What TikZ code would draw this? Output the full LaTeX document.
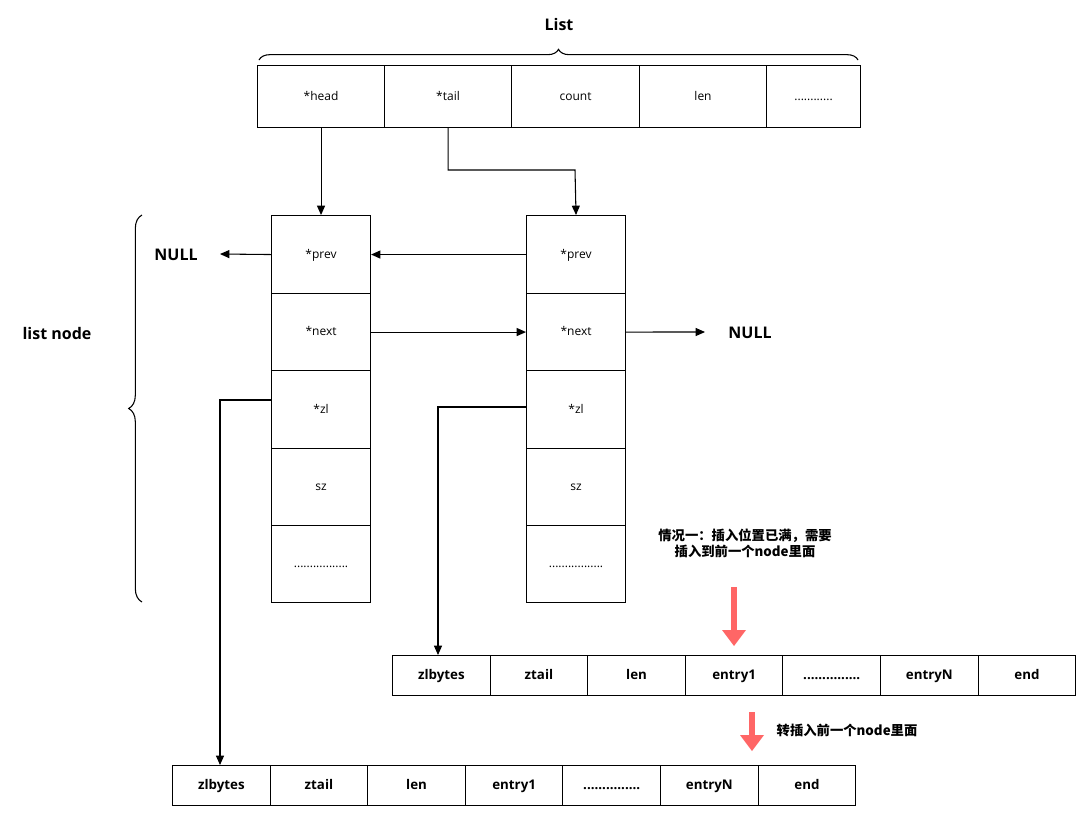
\documentclass[tikz,border=0pt]{standalone}
\usepackage{fontspec}
\setmainfont{Open Sans}
\newfontfamily\cjk{Noto Sans CJK SC}
\usetikzlibrary{arrows.meta,decorations.pathreplacing}
\definecolor{redar}{HTML}{FF6666}
\newcommand\mydotsA{............}
\newcommand\mydotsB{.................}
\newcommand\mydotsC{...............}
\begin{document}
\begin{tikzpicture}[x=0.75pt,y=-0.75pt,
  cell/.style={draw,thick,minimum height=0pt,inner sep=0pt,font=\small,text height=1.5ex,text depth=0.4ex},
  ar/.style={thick,-{Triangle[length=7pt,width=6pt]}},
  lbl/.style={font=\large\bfseries}]
\useasboundingbox (0,0) rectangle (1087,833);
% List row
\foreach \n/\a/\b/\t in {h/257/384/*head,t/384/511/*tail,c/511/639/count,l/639/766/len,d/766/860/\mydotsA}
  \node[cell,minimum width=(\b-\a)*0.75pt,minimum height=62*0.75pt,anchor=north west] (L\n) at (\a,65) {\t};
\draw[thick,decorate,decoration={brace,amplitude=8pt}] (259,60) -- (858,60);
\node[lbl] (listlbl) at (559,24) {List};
% nodes
\foreach \k/\x in {A/271,B/526}{
 \foreach \r/\ya/\yb/\t in {p/215/293/*prev,n/293/370/*next,z/370/448/*zl,s/448/525/sz,d/525/602/\mydotsB}
  \node[cell,minimum width=99*0.75pt,minimum height=(\yb-\ya)*0.75pt,anchor=north west] (\k\r) at (\x,\ya) {\t};
}
\draw[thick,decorate,decoration={brace,amplitude=10pt}] (142,602) -- (142,215);
\node[lbl] (lnlbl) at (57,333) {list node};
\node[lbl] (null1) at (176,255) {NULL};
\node[lbl] (null2) at (750,333) {NULL};
\coordinate (n1e) at (220,254);
\coordinate (n2e) at (705,332);
\draw[ar] (Lh.south) -- (Ap.north);
\draw[ar] (Lt.south) |- (575,170) -- (Bp.north);
\draw[ar] (Bp.west) -- (Ap.east);
\draw[ar] (Ap.west) -- (n1e);
\draw[ar] (An.east) -- (Bn.west);
\draw[ar] (Bn.east) -- (n2e);
% ziplists
\foreach \k/\x/\y in {P/392/655,Q/172/765}{
 \foreach \i/\t [count=\j from 0] in {1/zlbytes,2/ztail,3/len,4/entry1,5/\mydotsC,6/entryN,7/end}
  \node[cell,font=\bfseries,minimum width=97.6*0.75pt,minimum height=40*0.75pt,anchor=north west] (\k\i) at ({\x+\j*97.6},\y) {\t};
}
\coordinate (zq) at (438,655);
\coordinate (zp) at (220,765);
\draw[ar] (526,407) -| (zq);
\draw[ar] (271,400) -| (zp);
% red arrows
\fill[redar] (731,587) rectangle (737,630);
\fill[redar] (722,630) -- (746,630) -- (734,646) -- cycle;
\fill[redar] (749,712) rectangle (755,735);
\fill[redar] (740,735) -- (764,735) -- (752,751) -- cycle;
\node[font=\cjk\bfseries,align=center] (c1) at (745,543) {情况一：插入位置已满，需要\\插入到前一个node里面};
\node[font=\cjk\bfseries,anchor=west] (c2) at (772,730) {转插入前一个node里面};
\end{tikzpicture}
\end{document}
